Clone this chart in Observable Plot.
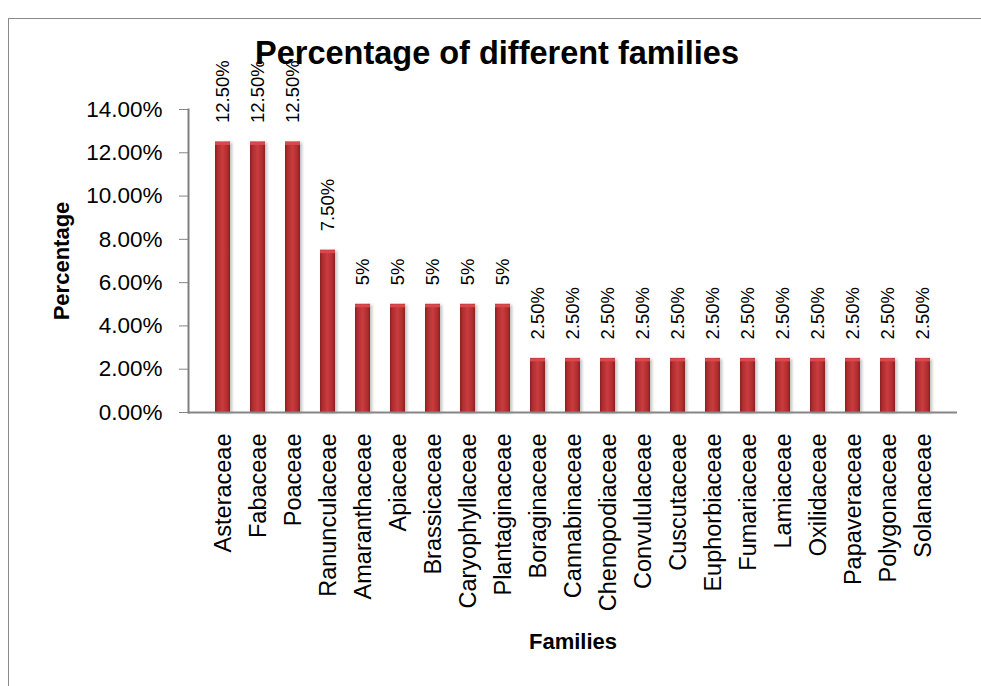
<!DOCTYPE html>
<html>
<head>
<meta charset="utf-8">
<script src="https://cdn.jsdelivr.net/npm/d3@7"></script>
<script src="https://cdn.jsdelivr.net/npm/@observablehq/plot@0.6"></script>
<style>
  html, body { margin: 0; padding: 0; background: #fff; }
  #wrap { position: relative; width: 981px; height: 686px; overflow: hidden; font-family: "Liberation Sans", Arial, sans-serif; }
  #frame { position: absolute; left: 8px; top: 18px; width: 1000px; height: 700px; border: 1.5px solid #8a8a8a; box-sizing: border-box; }
  #title { position: absolute; left: 0; width: 994px; top: 37px; text-align: center; font-weight: bold; font-size: 32.5px; color: #000; line-height: 1; }
  #chart { position: absolute; left: 0; top: 0; }
</style>
</head>
<body>
<div id="wrap">
  <div id="frame"></div>
  <div id="chart"></div>
  <div id="title">Percentage of different families</div>
</div>
<script>
const families = ["Asteraceae","Fabaceae","Poaceae","Ranunculaceae","Amaranthaceae","Apiaceae","Brassicaceae","Caryophyllaceae","Plantaginaceae","Boraginaceae","Cannabinaceae","Chenopodiaceae","Convululaceae","Cuscutaceae","Euphorbiaceae","Fumariaceae","Lamiaceae","Oxilidaceae","Papaveraceae","Polygonaceae","Solanaceae"];
const percentages = [0.125,0.125,0.125,0.075,0.05,0.05,0.05,0.05,0.05,0.025,0.025,0.025,0.025,0.025,0.025,0.025,0.025,0.025,0.025,0.025,0.025];
const valueLabels = ["12.50%","12.50%","12.50%","7.50%","5%","5%","5%","5%","5%","2.50%","2.50%","2.50%","2.50%","2.50%","2.50%","2.50%","2.50%","2.50%","2.50%","2.50%","2.50%"];
const yTicks = [0,0.02,0.04,0.06,0.08,0.10,0.12,0.14];
const yTickLabels = ["0.00%","2.00%","4.00%","6.00%","8.00%","10.00%","12.00%","14.00%"];

const data = families.map((f, i) => ({family: f, value: percentages[i], label: valueLabels[i]}));

const ns = "http://www.w3.org/2000/svg";

const plot = Plot.plot({
  width: 981,
  height: 686,
  marginLeft: 188,
  marginRight: 24,
  marginTop: 109,
  marginBottom: 274,
  style: {fontFamily: "'Liberation Sans', Arial, sans-serif", background: "transparent", overflow: "visible"},
  x: {domain: families, padding: 0.57, label: null},
  y: {domain: [0, 0.14], label: null},
  marks: [
    Plot.barY(data, {x: "family", y: "value", fill: "url(#barGrad)"}),
    Plot.tickY(data, {x: "family", y: "value", stroke: "#d9484b", strokeWidth: 3, dy: 1.5}),
    Plot.axisY({ticks: yTicks, tickFormat: d => yTickLabels[yTicks.indexOf(d)], tickSize: 9, tickPadding: 17, fontSize: 22.5, stroke: "#868686", strokeOpacity: 1, color: "#000", label: null}),
    Plot.frame({anchor: "left", stroke: "#7f7f7f", strokeWidth: 2}),
    Plot.ruleY([0], {stroke: "#868686", strokeWidth: 2}),
    Plot.axisX({tickRotate: -90, tickSize: 0, tickPadding: 21, fontSize: 23.5, color: "#000", label: null}),
    Plot.text(data, {x: "family", y: "value", text: "label", rotate: -90, textAnchor: "start", dy: -19, fontSize: 18.5, fill: "#000"}),
    Plot.text(["Percentage"], {frameAnchor: "left", dx: -127, rotate: -90, textAnchor: "middle", fontWeight: "bold", fontSize: 22, fill: "#000"}),
    Plot.text(["Families"], {frameAnchor: "bottom", dy: 236, fontWeight: "bold", fontSize: 22, fill: "#000"})
  ]
});

const defs = document.createElementNS(ns, "defs");
defs.innerHTML = `
  <linearGradient id="barGrad" x1="0" x2="1" y1="0" y2="0">
    <stop offset="0%" stop-color="#8a1f21"/>
    <stop offset="18%" stop-color="#b02e30"/>
    <stop offset="50%" stop-color="#c93c3e"/>
    <stop offset="82%" stop-color="#b02e30"/>
    <stop offset="100%" stop-color="#8a1f21"/>
  </linearGradient>`;
plot.insertBefore(defs, plot.firstChild);

plot.querySelectorAll("g[aria-label='bar'] rect").forEach(r => {
  r.setAttribute("filter", "drop-shadow(2px 1px 1.5px rgba(0,0,0,0.25))");
});
document.getElementById("chart").appendChild(plot);
</script>
</body>
</html>
